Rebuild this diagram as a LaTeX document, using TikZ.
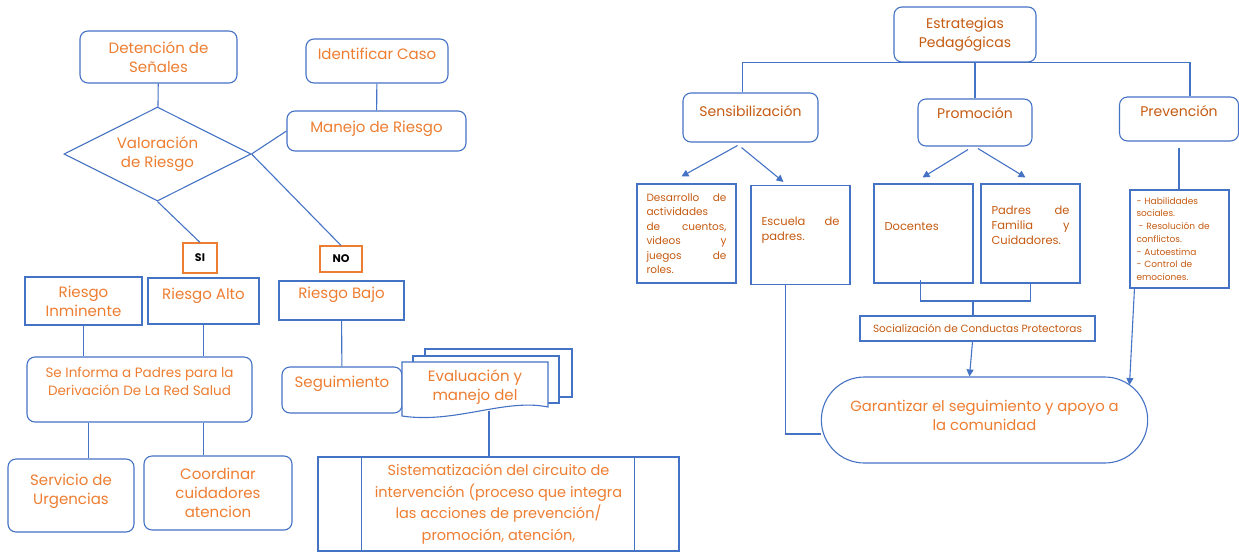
\documentclass[tikz,border=0pt]{standalone}
\usepackage{fontspec}
\setmainfont{Poppins}
\usetikzlibrary{shapes,arrows.meta,positioning,calc}

\definecolor{lineblue}{HTML}{4472C4}
\definecolor{txtorange}{HTML}{ED7D31}
\definecolor{txtdark}{HTML}{C55A11}

\begin{document}
\begin{tikzpicture}[x=1pt, y=-1pt, color=lineblue, line width=1.1pt,
  >={Triangle[length=7pt,width=7pt]},
  every node/.style={align=center, text=txtorange},
  rbox/.style={draw=lineblue, rounded corners=8pt, inner sep=2pt},
  sbox/.style={draw=lineblue, inner sep=2pt},
  decision/.style={draw=txtorange, text=black, inner sep=0pt, font=\fontsize{11}{13}\selectfont\bfseries},
  fbig/.style={font=\fontsize{15}{19}\selectfont},
  fhead/.style={text=txtdark, font=\fontsize{14}{19}\selectfont},
  fmid/.style={text=txtdark, font=\fontsize{11.5}{15}\selectfont},
  fsmall/.style={text=txtdark, font=\fontsize{10.5}{14.5}\selectfont},
  ftiny/.style={text=txtdark, font=\fontsize{9}{12.7}\selectfont}]
\useasboundingbox (0,0) rectangle (1239,552);
%nodes
\node[rbox, fbig, minimum width=157pt, minimum height=52pt] (senales) at (158.5,57) {Detención de\\Señales};
\node[rbox, fbig, minimum width=142pt, minimum height=44pt, text depth=15pt] (identificar) at (377,61) {Identificar Caso};
\node[diamond, aspect=2, draw=lineblue, fbig, minimum width=187pt, minimum height=94pt, inner sep=0pt] (valoracion) at (157.5,154) {Valoración\\de Riesgo};
\node[rbox, fbig, minimum width=179pt, minimum height=40pt, text depth=9pt] (manejo) at (376.5,131) {Manejo de Riesgo};
\node[decision, minimum width=34pt, minimum height=30pt] (si) at (200,258) {SI};
\node[decision, minimum width=42pt, minimum height=26pt] (no) at (341,259) {NO};
\node[sbox, fbig, minimum width=117pt, minimum height=48pt] (inminente) at (83.5,301) {Riesgo\\Inminente};
\node[sbox, fbig, minimum width=111pt, minimum height=46pt, text depth=15pt] (alto) at (203.5,301) {Riesgo Alto};
\node[sbox, fbig, minimum width=125pt, minimum height=39pt, text depth=15pt] (bajo) at (341.5,300.5) {Riesgo Bajo};
\node[rbox, font=\fontsize{13.5}{18}\selectfont, minimum width=225pt, minimum height=65pt, text depth=17pt] (informa) at (139.5,389.5) {Se Informa a Padres para la\\Derivación De La Red Salud};
\node[rbox, fbig, minimum width=126pt, minimum height=73pt, text depth=13pt] (urgencias) at (71,495.5) {Servicio de\\Urgencias};
\node[rbox, fbig, minimum width=148pt, minimum height=74pt] (coordinar) at (218,493) {Coordinar\\cuidadores\\atencion};
\node[rbox, fbig, minimum width=120pt, minimum height=46pt, text depth=17pt] (seguimiento) at (342,390) {Seguimiento};
\draw[fill=white] (425,349) rectangle (572,397);
\draw[fill=white] (413,356) rectangle (559,403);
\draw[fill=white] (402,362) -- (548,362) -- (548,407) .. controls (505,398) and (455,424) .. (402,416) -- cycle;
\node[fbig, minimum width=146pt, minimum height=52pt] (evaluacion) at (475,387) {Evaluación y\\manejo del};
\node[sbox, font=\fontsize{14.5}{21.5}\selectfont, minimum width=361pt, minimum height=94pt] (sistema) at (498.5,504) {Sistematización del circuito de\\intervención (proceso que integra\\las acciones de prevención/\\promoción, atención,};

\node[rbox, fhead, minimum width=142pt, minimum height=55pt] (estrategias) at (965,34.5) {Estrategias\\Pedagógicas};
\node[rbox, fhead, minimum width=135pt, minimum height=49pt, text depth=13pt] (sensibil) at (750.5,117.5) {Sensibilización};
\node[rbox, fhead, minimum width=114pt, minimum height=47pt, text depth=19pt] (promocion) at (975,122.5) {Promoción};
\node[rbox, fhead, minimum width=119pt, minimum height=44pt, text depth=17pt] (prevencion) at (1179,119) {Prevención};
\node[sbox, fsmall, minimum width=99pt, minimum height=99pt, text width=80pt, align=left] (desarrollo) at (686.5,233.5) {Desarrollo\hfill de\\actividades\\de\hfill cuentos,\\videos\hfill y\\juegos\hfill de\\roles.};
\node[sbox, fmid, minimum width=99pt, minimum height=99pt, text width=78pt, align=left, text depth=27pt] (escuela) at (800.5,235) {Escuela\hfill de\\padres.};
\node[sbox, fmid, minimum width=99pt, minimum height=99pt, text width=78pt, align=left, text depth=14pt] (docentes) at (923.5,233.5) {Docentes};
\node[sbox, fmid, minimum width=99pt, minimum height=99pt, text width=78pt, align=left, text depth=46pt] (padres) at (1030.5,233.5) {Padres\hfill de\\Familia\hfill y\\Cuidadores.};
\node[sbox, ftiny, minimum width=99pt, minimum height=98pt, text width=86pt, align=left] (habilidades) at (1179.5,239) {- Habilidades\\sociales.\\\hspace*{2pt}- Resolución de\\conflictos.\\- Autoestima\\- Control de\\emociones.};
\node[sbox, fsmall, minimum width=235pt, minimum height=25pt] (social) at (977.5,328.5) {Socialización de Conductas Protectoras};
\node[rounded rectangle, draw=lineblue, font=\fontsize{14.8}{19}\selectfont, minimum width=333pt, minimum height=86pt, text depth=9pt] (garantizar) at (984.5,420) {Garantizar el seguimiento y apoyo a\\la comunidad};
\coordinate (junta) at (973,301);

%lines
\draw (senales) -- (valoracion);
\draw (identificar) -- (manejo);
\draw (valoracion.east) -- (manejo.west);
\draw (valoracion.east) -- (no.north);
\draw (valoracion.south) -- (si.north);
\draw (inminente.south) -- (inminente.south |- informa.north);
\draw (alto.south) -- (alto.south |- informa.north);
\draw ([xshift=62pt]informa.south west) -- ([xshift=62pt]informa.south west |- urgencias.north);
\draw (informa.south -| alto) -- (alto |- coordinar.north);
\draw (bajo) -- (seguimiento);
\draw ([xshift=14pt,yshift=3pt]evaluacion.south) -- ([xshift=14pt]evaluacion.south |- sistema.north);
\draw ([xshift=44pt]sistema.north west) -- ([xshift=44pt]sistema.south west);
\draw ([xshift=-45pt]sistema.north east) -- ([xshift=-45pt]sistema.south east);

\draw ([xshift=-8pt]sensibil.north) |- ([xshift=11pt]prevencion.north |- estrategias.south) -- ([xshift=11pt]prevencion.north);
\draw (estrategias.south -| promocion) -- (promocion.north);
\draw[->] ([xshift=-13pt,yshift=-3pt]sensibil.south) -- ([xshift=-5pt,yshift=7pt]desarrollo.north);
\draw[->] ([xshift=-9pt,yshift=-5pt]sensibil.south) -- ([xshift=-17pt,yshift=3pt]escuela.north);
\draw[->] ([xshift=-7pt,yshift=-3pt]promocion.south) -- ([xshift=-1pt,yshift=6pt]docentes.north);
\draw[->] ([xshift=3pt,yshift=-2pt]promocion.south) -- ([xshift=-5pt,yshift=6pt]padres.north);
\draw ([yshift=-6pt]prevencion.south) -- (prevencion.south |- habilidades.north);
\draw ([xshift=-3pt,yshift=4pt]docentes.south) |- (junta) -| (padres.south);
\draw (junta) -- (junta |- social.north);
\draw[->] ([xshift=-5pt]social.south) -- ([xshift=-15pt]garantizar.north);
\draw ([xshift=-15pt]escuela.south) |- ([yshift=-14pt]garantizar.west);
\draw[->] ([xshift=5pt]habilidades.south west) -- ([xshift=145pt,yshift=35pt]garantizar.center);
\end{tikzpicture}
\end{document}
